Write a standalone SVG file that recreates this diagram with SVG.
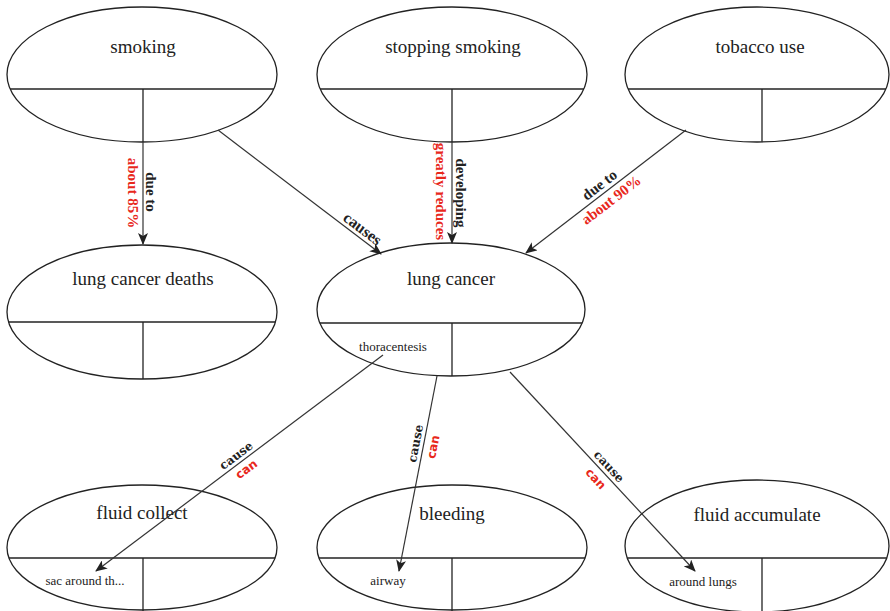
<svg xmlns="http://www.w3.org/2000/svg" width="890" height="611" viewBox="0 0 890 611">
<style>
.shape{fill:#fff;stroke:#222;stroke-width:1.3}
.div{stroke:#222;stroke-width:1.3;fill:none}
.title{font-family:"Liberation Serif","Times New Roman",serif;font-size:19px;fill:#222;text-anchor:middle}
.sub{font-family:"Liberation Serif","Times New Roman",serif;font-size:13px;fill:#222;text-anchor:middle}
.conn{stroke:#333;stroke-width:1.2;fill:none;marker-end:url(#arr)}
.lb{font-family:"Liberation Serif","Times New Roman",serif;font-weight:bold;font-size:15px;fill:#222;text-anchor:middle}
.lr{font-family:"Liberation Serif","Times New Roman",serif;font-weight:bold;font-size:15px;fill:#e8281c;text-anchor:middle}
.lb2{font-family:"DejaVu Serif",serif;font-weight:bold;font-size:12px;fill:#222;text-anchor:middle}
.lr2{font-family:"DejaVu Sans",sans-serif;font-weight:bold;font-size:12px;fill:#e8281c;text-anchor:middle}
</style>
<defs>
<marker id="arr" viewBox="0 0 12 10" refX="11" refY="5" markerWidth="12" markerHeight="10" markerUnits="userSpaceOnUse" orient="auto">
<path d="M0,0 L12,5 L0,10 L3,5 z" fill="#222"/>
</marker>
</defs>
<rect width="890" height="611" fill="#fff"/>

<g id="smoking">
<ellipse class="shape" cx="142" cy="74.5" rx="135" ry="67.5"/>
<line class="div" x1="10.1" y1="89" x2="273.9" y2="89"/>
<line class="div" x1="143" y1="89" x2="143" y2="142"/>
<text class="title" x="143" y="53">smoking</text>
</g>

<g id="stopping-smoking">
<ellipse class="shape" cx="452" cy="74.5" rx="135" ry="67.5"/>
<line class="div" x1="320.1" y1="89" x2="583.9" y2="89"/>
<line class="div" x1="452" y1="89" x2="452" y2="142"/>
<text class="title" x="453" y="53">stopping smoking</text>
</g>

<g id="tobacco-use">
<ellipse class="shape" cx="757" cy="74.5" rx="132" ry="67.5"/>
<line class="div" x1="628.1" y1="89" x2="885.9" y2="89"/>
<line class="div" x1="762" y1="89" x2="762" y2="141.8"/>
<text class="title" x="760" y="53">tobacco use</text>
</g>

<g id="lung-cancer-deaths">
<ellipse class="shape" cx="142" cy="312" rx="135" ry="67"/>
<line class="div" x1="8.5" y1="322" x2="275.5" y2="322"/>
<line class="div" x1="143" y1="322" x2="143" y2="379"/>
<text class="title" x="143" y="285">lung cancer deaths</text>
</g>

<g id="lung-cancer">
<ellipse class="shape" cx="451" cy="309.5" rx="134" ry="66.5"/>
<line class="div" x1="319.8" y1="323" x2="582.2" y2="323"/>
<line class="div" x1="452" y1="323" x2="452" y2="376"/>
<text class="title" x="451" y="285">lung cancer</text>
<text class="sub" x="393" y="351">thoracentesis</text>
</g>

<g id="fluid-collect">
<ellipse class="shape" cx="142" cy="547.5" rx="135" ry="62.5"/>
<line class="div" x1="8.9" y1="558" x2="275.1" y2="558"/>
<line class="div" x1="143" y1="558" x2="143" y2="611"/>
<text class="title" x="142" y="519">fluid collect</text>
<text class="sub" x="85" y="585">sac around th...</text>
</g>

<g id="bleeding">
<ellipse class="shape" cx="452" cy="547.5" rx="135" ry="62.5"/>
<line class="div" x1="318.9" y1="558" x2="585.1" y2="558"/>
<line class="div" x1="452" y1="558" x2="452" y2="611"/>
<text class="title" x="452" y="520">bleeding</text>
<text class="sub" x="388" y="585">airway</text>
</g>

<g id="fluid-accumulate">
<ellipse class="shape" cx="757" cy="546" rx="132" ry="66"/>
<line class="div" x1="627.2" y1="558" x2="886.8" y2="558"/>
<line class="div" x1="762" y1="558" x2="762" y2="611"/>
<text class="title" x="757" y="521">fluid accumulate</text>
<text class="sub" x="703" y="586">around lungs</text>
</g>

<g id="connectors">
<line class="conn" x1="143" y1="142" x2="143" y2="244"/>
<text class="lb" transform="translate(143,192) rotate(90)" y="-3">due to</text>
<text class="lr" transform="translate(143,193) rotate(90)" y="15">about 85%</text>

<line class="conn" x1="218" y1="130" x2="381" y2="254"/>
<text class="lb" style="font-size:16px" transform="translate(357,236) rotate(37.2)" y="-4">causes</text>

<line class="conn" x1="452" y1="142" x2="452" y2="243"/>
<text class="lb" transform="translate(452,193) rotate(90)" y="-4">developing</text>
<text class="lr" transform="translate(452,191.5) rotate(90)" y="16">greatly reduces</text>

<line class="conn" x1="686" y1="130" x2="526" y2="253"/>
<text class="lb" transform="translate(605,192) rotate(-37.5)" y="-4">due to</text>
<text class="lr" transform="translate(605,192) rotate(-37.5)" y="15">about 90%</text>

<line class="conn" x1="383" y1="355" x2="96" y2="571"/>
<text class="lb2" transform="translate(241,462) rotate(-36.9)" y="-4">cause</text>
<text class="lr2" transform="translate(241,462) rotate(-36.9)" y="13">can</text>

<line class="conn" x1="437" y1="376" x2="399" y2="571"/>
<text class="lb2" transform="translate(423.5,445) rotate(-78.9)" y="-4">cause</text>
<text class="lr2" transform="translate(423.5,445) rotate(-78.9)" y="14">can</text>

<line class="conn" x1="510" y1="372" x2="695" y2="571"/>
<text class="lb2" transform="translate(603,472) rotate(47.1)" y="-4">cause</text>
<text class="lr2" transform="translate(603,472) rotate(47.1)" y="14">can</text>
</g>
</svg>
